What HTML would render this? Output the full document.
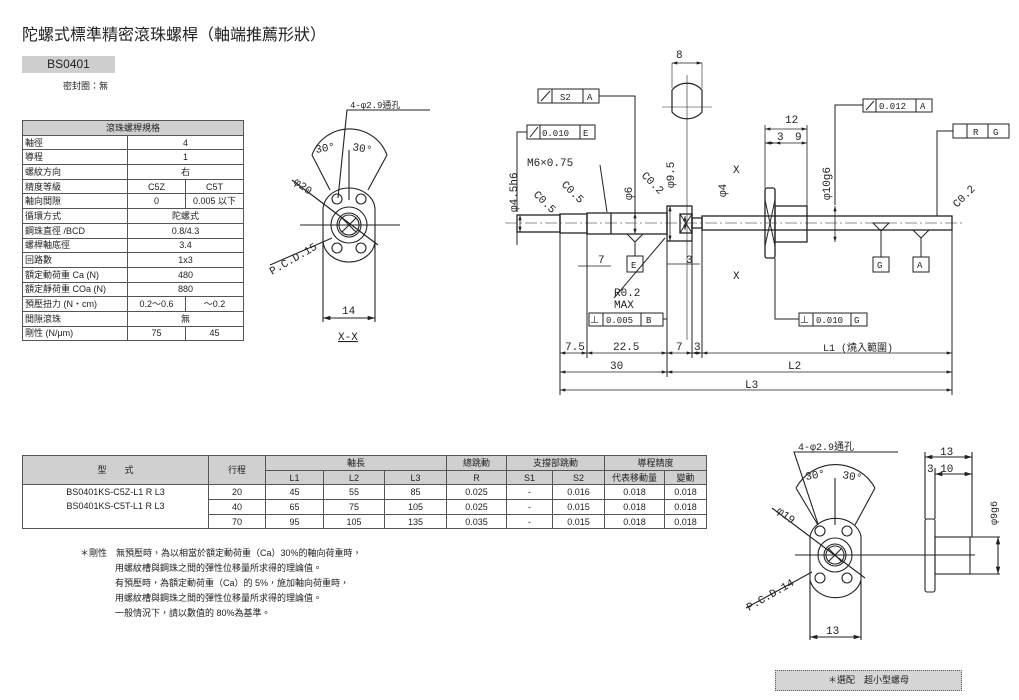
<!DOCTYPE html>
<html><head><meta charset="utf-8"><style>
body{margin:0;width:1019px;height:700px;background:#fff;position:relative;overflow:hidden;font-family:"Liberation Sans","Noto Sans CJK TC",sans-serif;color:#222}
.a{position:absolute}
table{border-collapse:collapse;font-size:9px;position:absolute}
td{border:1px solid #555;padding:0 2px;height:13.7px;line-height:12px}
.c{text-align:center}
.h{background:#d0d0d0;text-align:center}
svg{position:absolute;left:0;top:0}
svg text{font-family:"Liberation Mono","Noto Sans CJK TC",monospace;fill:#222}
</style></head><body>
<div class="a" style="left:22px;top:21px;font-size:16px">陀螺式標準精密滾珠螺桿（軸端推薦形狀）</div>
<div class="a" style="left:22px;top:56px;width:93px;height:17px;background:#cfcfcf;font-size:12px;text-align:center;line-height:17px">BS0401</div>
<div class="a" style="left:63px;top:79px;font-size:9px">密封圈：無</div>

<table style="left:22px;top:120px;width:222px">
<tr><td colspan="3" class="h">滾珠螺桿規格</td></tr>
<tr><td style="width:100px">軸徑</td><td colspan="2" class="c">4</td></tr>
<tr><td>導程</td><td colspan="2" class="c">1</td></tr>
<tr><td>螺紋方向</td><td colspan="2" class="c">右</td></tr>
<tr><td>精度等級</td><td class="c" style="width:53px">C5Z</td><td class="c">C5T</td></tr>
<tr><td>軸向間隙</td><td class="c">0</td><td class="c">0.005 以下</td></tr>
<tr><td>循環方式</td><td colspan="2" class="c">陀螺式</td></tr>
<tr><td>鋼珠直徑 /BCD</td><td colspan="2" class="c">0.8/4.3</td></tr>
<tr><td>螺桿軸底徑</td><td colspan="2" class="c">3.4</td></tr>
<tr><td>回路數</td><td colspan="2" class="c">1x3</td></tr>
<tr><td>額定動荷重 Ca (N)</td><td colspan="2" class="c">480</td></tr>
<tr><td>額定靜荷重 COa (N)</td><td colspan="2" class="c">880</td></tr>
<tr><td>預壓扭力 (N・cm)</td><td class="c">0.2～0.6</td><td class="c">～0.2</td></tr>
<tr><td>間隙滾珠</td><td colspan="2" class="c">無</td></tr>
<tr><td>剛性 (N/μm)</td><td class="c">75</td><td class="c">45</td></tr>
</table>

<table style="left:22px;top:455px;width:685px">
<tr class="h"><td rowspan="2" style="width:181px;background:#d0d0d0">型　　式</td><td rowspan="2" style="width:52px">行程</td><td colspan="3">軸長</td><td>總跳動</td><td colspan="2">支撐部跳動</td><td colspan="2">導程精度</td></tr>
<tr class="h"><td style="width:53px">L1</td><td style="width:56px">L2</td><td style="width:57px">L3</td><td style="width:55px">R</td><td style="width:41px">S1</td><td style="width:47px">S2</td><td style="width:55px">代表移動量</td><td>變動</td></tr>
<tr class="c"><td rowspan="3" style="vertical-align:top;line-height:14px">BS0401KS-C5Z-L1 R L3<br>BS0401KS-C5T-L1 R L3</td><td>20</td><td>45</td><td>55</td><td>85</td><td>0.025</td><td>-</td><td>0.016</td><td>0.018</td><td>0.018</td></tr>
<tr class="c"><td>40</td><td>65</td><td>75</td><td>105</td><td>0.025</td><td>-</td><td>0.015</td><td>0.018</td><td>0.018</td></tr>
<tr class="c"><td>70</td><td>95</td><td>105</td><td>135</td><td>0.035</td><td>-</td><td>0.015</td><td>0.018</td><td>0.018</td></tr>
</table>

<div class="a" style="left:80px;top:546px;font-size:9px;line-height:15px">＊剛性　無預壓時，為以相當於額定動荷重（Ca）30%的軸向荷重時，<br><span style="padding-left:35px">用螺紋槽與鋼珠之間的彈性位移量所求得的理論值。</span><br><span style="padding-left:35px">有預壓時，為額定動荷重（Ca）的 5%，施加軸向荷重時，</span><br><span style="padding-left:35px">用螺紋槽與鋼珠之間的彈性位移量所求得的理論值。</span><br><span style="padding-left:35px">一般情況下，請以數值的 80%為基準。</span></div>

<div class="a" style="left:775px;top:670px;width:185px;height:19px;background:#d6d6d6;border:1px dotted #555;font-size:9px;text-align:center;line-height:19px">＊選配　超小型螺母</div>

<svg width="1019" height="700" viewBox="0 0 1019 700" fill="none" stroke="#222" stroke-width="1">
<defs><marker id="m" viewBox="0 0 10 6" refX="10" refY="3" markerWidth="7" markerHeight="4" orient="auto-start-reverse"><path d="M0 0L10 3L0 6Z" fill="#222" stroke="none"/></marker></defs>
<g stroke-width="1.3">
<rect x="517" y="215" width="43" height="17"/>
<rect x="560" y="214" width="27" height="19"/>
<rect x="587" y="213" width="80" height="21"/>
<line x1="611" y1="213" x2="611" y2="234"/>
<rect x="667" y="206" width="25" height="35"/>
<rect x="680" y="214" width="12" height="19"/>
<rect x="692" y="218" width="10" height="10"/>
<rect x="702" y="216" width="250" height="14"/>
<rect x="765" y="188" width="10" height="70" rx="2"/>
<rect x="775" y="206" width="32" height="36"/>
</g>
<path d="M680 214L692 233M692 214L680 233M765 200L775 246M775 200L765 246"/>
<line x1="505" y1="223" x2="965" y2="223" stroke-dasharray="12 3 2 3" stroke-width=".6"/>
<path d="M560 232V395M587 234V358M667 241V377M692 241V358M702 230V358M952 230V395M517 232V245"/>
<g stroke-width=".8" marker-start="url(#m)" marker-end="url(#m)">
<line x1="560" y1="353" x2="587" y2="353"/><line x1="587" y1="353" x2="667" y2="353"/><line x1="667" y1="353" x2="692" y2="353"/><line x1="692" y1="353" x2="702" y2="353"/><line x1="702" y1="353" x2="952" y2="353"/>
<line x1="560" y1="372" x2="667" y2="372"/><line x1="667" y1="372" x2="952" y2="372"/>
<line x1="560" y1="390" x2="952" y2="390"/>
<line x1="520" y1="215" x2="520" y2="232"/><line x1="635" y1="213" x2="635" y2="234"/><line x1="670" y1="206" x2="670" y2="241"/><line x1="685" y1="216" x2="685" y2="230"/><line x1="835" y1="206" x2="835" y2="242"/>
<line x1="765" y1="129" x2="807" y2="129"/><line x1="765" y1="143" x2="775" y2="143"/><line x1="775" y1="143" x2="807" y2="143"/>
<line x1="672" y1="63" x2="702" y2="63"/>
</g>
<path d="M578 266H611M667 264H700M765 188V125M807 206V125" stroke-width=".8"/>
<g font-size="11" stroke="none" fill="#222">
<text x="565" y="350">7.5</text><text x="613" y="350">22.5</text><text x="676" y="350">7</text><text x="694" y="350">3</text>
<text x="823" y="351" font-size="10">L1 (燒入範圍)</text>
<text x="610" y="369">30</text><text x="788" y="369">L2</text><text x="745" y="388">L3</text>
<text x="527" y="166">M6×0.75</text>
<text x="533" y="195" transform="rotate(45 533 195)">C0.5</text>
<text x="561" y="185" transform="rotate(45 561 185)">C0.5</text>
<text x="641" y="176" transform="rotate(45 641 176)">C0.2</text>
<text x="957" y="208" transform="rotate(-45 957 208)">C0.2</text>
<text x="598" y="263">7</text><text x="686" y="263">3</text>
<text x="614" y="296">R0.2</text><text x="614" y="308">MAX</text>
<text x="785" y="123">12</text><text x="777" y="140">3</text><text x="795" y="140">9</text>
<text x="676" y="58">8</text>
<text x="733" y="173">X</text><text x="733" y="279">X</text>
<text x="517" y="212" transform="rotate(-90 517 212)">φ4.5h6</text>
<text x="632" y="200" transform="rotate(-90 632 200)">φ6</text>
<text x="674" y="188" transform="rotate(-90 674 188)">φ9.5</text>
<text x="726" y="197" transform="rotate(-90 726 197)">φ4</text>
<text x="830" y="200" transform="rotate(-90 830 200)">φ10g6</text>
</g>
<path d="M672 90 A20 20 0 0 1 702 90 V112 A20 20 0 0 1 672 112 Z" stroke-width="1.2"/>
<path d="M672 88V63M702 88V63M662 107H712M687 75V340" stroke-width=".6"/>
<g stroke-width="1">
<rect x="538" y="89" width="61" height="14"/><path d="M552 89V103M583 89V103M541 101L550 91M599 96H635V213"/>
<rect x="527" y="125" width="68" height="14"/><path d="M540 125V139M580 125V139M530 137L538 127M527 132H517V212"/>
<rect x="863" y="99" width="69" height="13"/><path d="M876 99V112M916 99V112M866 110L874 101M863 105H835V205"/>
<rect x="953" y="124" width="56" height="14"/><path d="M967 124V138M988 124V138M953 131H937V216"/>
<rect x="589" y="313" width="74" height="13"/><path d="M603 313V326M641 313V326M663 319H667"/>
<rect x="799" y="313" width="68" height="13"/><path d="M813 313V326M851 313V326M799 319H775V258"/>
<rect x="627" y="256" width="16" height="16"/><path d="M627 234L643 234L635 242Z M635 242V256"/>
<rect x="873" y="257" width="16" height="15"/><path d="M873 223L889 223L881 231Z M881 231V257"/>
<rect x="913" y="257" width="16" height="15"/><path d="M913 230L929 230L921 238Z M921 238V257"/>
<path d="M600 165L607 212M614 298L665 238"/>
</g>
<g font-size="9" stroke="none" fill="#222">
<text x="560" y="100">S2</text><text x="587" y="100">A</text>
<text x="542" y="136">0.010</text><text x="583" y="136">E</text>
<text x="879" y="109">0.012</text><text x="920" y="109">A</text>
<text x="973" y="135">R</text><text x="993" y="135">G</text>
<text x="590" y="323">⊥</text><text x="606" y="323">0.005</text><text x="646" y="323">B</text>
<text x="800" y="323">⊥</text><text x="816" y="323">0.010</text><text x="854" y="323">G</text>
<text x="631" y="268">E</text><text x="877" y="268">G</text><text x="917" y="268">A</text>
</g>
<g stroke-width="1.1">
<path d="M323 210 A26 22 0 0 1 375 210 V240 A26 22 0 0 1 323 240 Z"/>
<circle cx="349" cy="225" r="18"/><circle cx="349" cy="225" r="12"/><circle cx="349" cy="225" r="10"/>
<circle cx="337" cy="199" r="5"/><circle cx="361" cy="199" r="5"/><circle cx="337" cy="248" r="5"/><circle cx="361" cy="248" r="5"/>
<path d="M342 218L356 232M356 218L342 232"/>
<path d="M323 240V322M375 240V322M312 155A40 40 0 0 1 387 155M312 155L330 190M387 155L368 190M349 150V200M292 180L378 245M270 265L332 238M338 198L347 110H430M300 225H400"/>
<line x1="323" y1="318" x2="375" y2="318" marker-start="url(#m)" marker-end="url(#m)"/>
</g>
<g font-size="11" stroke="none" fill="#222">
<text x="316" y="153" transform="rotate(-10 316 153)">30°</text><text x="352" y="150" transform="rotate(10 352 150)">30°</text>
<text x="293" y="183" transform="rotate(37 293 183)">φ20</text>
<text x="272" y="275" transform="rotate(-30 272 275)">P.C.D.15</text>
<text x="342" y="314">14</text><text x="338" y="340" text-decoration="underline">X-X</text>
<text x="350" y="108" font-size="9">4-φ2.9通孔</text>
</g>
<g stroke-width="1.1">
<path d="M810 536 A26 22 0 0 1 861 536 V580 A26 22 0 0 1 810 580 Z"/>
<circle cx="835" cy="555" r="17"/><circle cx="835" cy="555" r="11"/><circle cx="835" cy="555" r="9"/>
<circle cx="820" cy="531" r="5"/><circle cx="847" cy="531" r="5"/><circle cx="820" cy="578" r="5"/><circle cx="847" cy="578" r="5"/>
<path d="M828 548L842 562M842 548L828 562"/>
<path d="M810 580V640M861 580V640M796 488A45 45 0 0 1 875 488M796 488L818 525M875 488L855 525M835 478V525M772 508L865 578M746 608L812 572M818 524L794 452H898M795 555H975"/>
<rect x="925" y="519" width="10" height="73" rx="2"/><rect x="935" y="537" width="35" height="37"/>
<path d="M925 519V452M972 537V452M935 519V468M970 537H1000M970 574H1000"/>
<g marker-start="url(#m)" marker-end="url(#m)"><line x1="810" y1="637" x2="861" y2="637"/><line x1="925" y1="457" x2="972" y2="457"/><line x1="935" y1="474" x2="972" y2="474"/><line x1="998" y1="537" x2="998" y2="574"/></g>
</g>
<g font-size="11" stroke="none" fill="#222">
<text x="806" y="480" transform="rotate(-10 806 480)">30°</text><text x="842" y="478" transform="rotate(10 842 478)">30°</text>
<text x="776" y="512" transform="rotate(37 776 512)">φ19</text>
<text x="749" y="611" transform="rotate(-30 749 611)">P.C.D.14</text>
<text x="826" y="634">13</text><text x="940" y="455">13</text><text x="927" y="472">3 10</text>
<text x="798" y="450" font-size="10">4-φ2.9通孔</text>
<text x="997" y="525" transform="rotate(-90 997 525)" font-size="10">φ9g6</text>
</g>
</svg>
</body></html>
